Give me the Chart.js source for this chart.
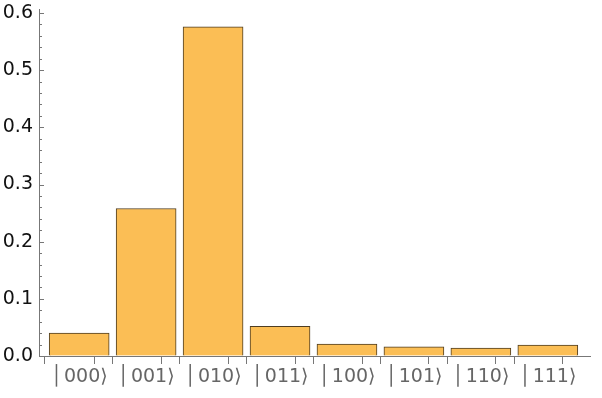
<!DOCTYPE html>
<html>
<head>
<meta charset="utf-8">
<script src="https://cdn.jsdelivr.net/npm/chart.js@4"></script>
<style>
  html, body { margin: 0; padding: 0; background: #fff; }
  #wrap { width: 602px; height: 398px; }
</style>
</head>
<body>
<div id="wrap"><canvas id="chart" width="602" height="398"></canvas></div>
<script>
const states = ['000', '001', '010', '011', '100', '101', '110', '111'];
const probs = [0.040, 0.258, 0.576, 0.052, 0.021, 0.016, 0.014, 0.019];
const yMajor = [0.0, 0.1, 0.2, 0.3, 0.4, 0.5, 0.6];

const axisColor = '#777';
const halfBar = 0.45;

const isMajor = (v) => yMajor.some(m => Math.abs(m - v) < 1e-6);
const ket = (s) => '\u2502\u200A' + s + '\u27E9';

// y ticks in Mathematica style point into the plot
const inwardTicks = {
    id: 'inwardTicks',
    afterDraw: (chart) => {
        const y = chart.scales.y;
        const ctx = chart.ctx;
        const left = chart.chartArea.left;
        ctx.save();
        ctx.strokeStyle = axisColor;
        ctx.lineWidth = 1;
        y.ticks.forEach(t => {
            const py = Math.round(y.getPixelForValue(t.value)) + 0.5;
            const len = isMajor(t.value) ? 5 : 3;
            ctx.beginPath();
            ctx.moveTo(left, py);
            ctx.lineTo(left + len, py);
            ctx.stroke();
        });
        ctx.restore();
    }
};

const ctx = document.getElementById('chart').getContext('2d');

new Chart(ctx, {
    type: 'bar',
    data: {
        datasets: [{
            data: states.map((s, i) => ({ x: i, y: probs[i] })),
            backgroundColor: '#FBBE55',
            borderColor: '#4e3d22',
            borderWidth: 1,
            barThickness: 60
        }]
    },
    options: {
        responsive: false,
        animation: false,
        layout: { padding: { top: 9, right: 12, left: 0, bottom: 0 } },
        plugins: { legend: { display: false }, tooltip: { enabled: false } },
        scales: {
            x: {
                type: 'linear',
                offset: false,
                min: -0.6,
                max: 7.63,
                afterBuildTicks: (axis) => {
                    const ticks = [{ value: -0.6 }];
                    states.forEach((s, i) => {
                        ticks.push({ value: i - halfBar });
                        ticks.push({ value: i });
                        ticks.push({ value: i + halfBar });
                    });
                    axis.ticks = ticks;
                },
                afterFit: (scale) => { scale.height = 42; scale.paddingLeft = 0; scale.paddingRight = 0; },
                ticks: {
                    autoSkip: false,
                    maxRotation: 0,
                    padding: 2,
                    color: '#666',
                    font: { family: 'DejaVu Sans', size: 19 },
                    callback: (v) => Number.isInteger(v) ? ket(states[v]) : ''
                },
                grid: {
                    drawOnChartArea: false,
                    tickLength: 8,
                    color: (c) => (c.tick && Number.isInteger(c.tick.value)) ? 'rgba(0,0,0,0)' : axisColor
                },
                border: { color: axisColor, width: 1 }
            },
            y: {
                min: 0,
                max: 0.607,
                afterFit: (scale) => { scale.width = 39; scale.paddingTop = 0; scale.paddingBottom = 0; },
                ticks: {
                    stepSize: 0.02,
                    includeBounds: false,
                    autoSkip: false,
                    padding: 6,
                    color: '#111',
                    font: { family: 'DejaVu Sans', size: 19 },
                    callback: (v) => isMajor(v) ? v.toFixed(1) : ''
                },
                grid: { drawOnChartArea: false, drawTicks: false },
                border: { color: axisColor, width: 1 }
            }
        }
    },
    plugins: [inwardTicks]
});
</script>
</body>
</html>
